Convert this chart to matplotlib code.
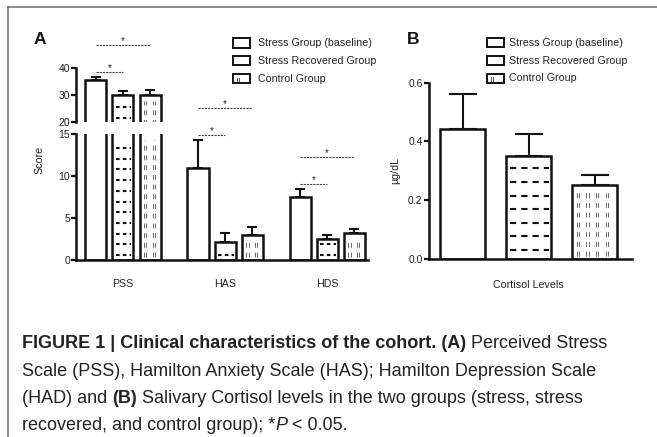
import numpy as np
import matplotlib
matplotlib.use("Agg")
import matplotlib.pyplot as plt
import matplotlib.transforms as mtransforms
from matplotlib.patches import Rectangle
from matplotlib.lines import Line2D

plt.rcParams["font.family"] = ["Liberation Sans", "DejaVu Sans"]
plt.rcParams["lines.scale_dashes"] = False

# --- data ---
groups_a = ["PSS", "HAS", "HDS"]
series_names = ["Stress Group (baseline)", "Stress Recovered Group", "Control Group"]
stress_mean = [35.5, 11.0, 7.5]
stress_sem = [1.1, 3.3, 1.0]
recovered_mean = [30.0, 2.2, 2.5]
recovered_sem = [1.4, 1.05, 0.5]
control_mean = [30.0, 3.0, 3.2]
control_sem = [2.0, 0.9, 0.5]
cortisol_label = "Cortisol Levels"
cortisol_mean = [0.444, 0.350, 0.252]
cortisol_sem = [0.117, 0.074, 0.033]
# significant comparisons in panel A: (group, bar i, bar j)
sig_pairs = [(0, 0, 1), (0, 0, 2), (1, 0, 1), (1, 0, 2), (2, 0, 1), (2, 0, 2)]

W, H = 657, 437
fig = plt.figure(figsize=(W / 100, H / 100), dpi=100)
INK = "#111111"
TXT = "#222222"


def box(left, top, right, bottom):
    return [left / W, 1 - bottom / H, (right - left) / W, (bottom - top) / H]


def px(x, y):
    return x / W, 1 - y / H


def style_axes(ax, ylen=3.3):
    for s in ("top", "right"):
        ax.spines[s].set_visible(False)
    for s in ("left", "bottom"):
        ax.spines[s].set_linewidth(1.8)
        ax.spines[s].set_color(INK)
    ax.tick_params(axis="y", direction="out", length=ylen, width=1.6, pad=1,
                   labelsize=7.5, labelcolor=TXT, color=INK)
    ax.tick_params(axis="x", length=0, labelsize=7.7, labelcolor=TXT)
    ax.patch.set_visible(False)


def fill_pattern(ax, rect, kind, big):
    lo, hi = ax.get_ylim()
    x0 = rect.get_x()
    x1 = x0 + rect.get_width()
    y0 = rect.get_y()
    y1 = min(y0 + rect.get_height(), hi)
    if y1 <= lo:
        return
    t = ax.transData
    inv = t.inverted()
    (px0, py0), (px1, py1) = t.transform([(x0, y0), (x1, y1)])
    if kind == "dash":
        step = 13.6 if big else 10.7
        dash = (4.5, 3.6) if big else (2.6, 2.3)
        start = 9 if big else 5
        for py in np.arange(py0 + start, py1 - (8 if big else 4), step):
            (a, b), (c, _) = inv.transform([(px0 + 3.5, py), (px1 - 2, py)])
            ax.plot([a, c], [b, b], color=INK, lw=1.5, dashes=dash,
                    dash_capstyle="butt", solid_capstyle="butt")
    else:
        period = 9.7 if big else 8.5
        for pxc in np.arange(px0 + 4.5, px1 - 3, period):
            for dx in (0, 2.4):
                (a, b), (_, d) = inv.transform([(pxc + dx, py0 + 3), (pxc + dx, py1 - 6)])
                ax.plot([a, a], [b, d], color="#666666", lw=0.7, dashes=(3.5, 3.5),
                        dash_capstyle="butt")


# --- panel A: broken y axis ---
ax_top = fig.add_axes(box(76, 68, 368, 122))
ax_bot = fig.add_axes(box(76, 134, 368, 260))
xa = np.arange(len(groups_a))
pitch_a, width_a = 0.265, 0.206
means_a = [stress_mean, recovered_mean, control_mean]
sems_a = [stress_sem, recovered_sem, control_sem]
kinds = [None, "dash", "vert"]

for ax, lim in ((ax_top, (20, 40)), (ax_bot, (0, 15))):
    ax.set_xlim(-0.46, 2.40)
    ax.set_ylim(*lim)
    style_axes(ax)
    for k in range(3):
        xs = xa + (k - 1) * pitch_a
        bars = ax.bar(xs, means_a[k], width_a, facecolor="white", edgecolor=INK,
                      linewidth=1.8, zorder=2)
        ax.errorbar(xs, means_a[k], yerr=[np.zeros(3), sems_a[k]], fmt="none",
                    ecolor=INK, elinewidth=1.5, capsize=3.6, capthick=1.5, zorder=1)
        if kinds[k]:
            for r in bars:
                fill_pattern(ax, r, kinds[k], False)

ax_top.set_yticks([20, 30, 40])
ax_top.spines["bottom"].set_visible(False)
ax_top.set_xticks([])
ax_bot.set_yticks([0, 5, 10, 15])
ax_bot.set_xticks(xa, groups_a)
ax_bot.tick_params(axis="x", pad=14)

# significance brackets
for g, i, j in sig_pairs:
    top = stress_mean[g] + stress_sem[g]
    ax = ax_top if top > 20 else ax_bot
    off = 5 if j == 1 else 32
    tr = mtransforms.offset_copy(ax.transData, fig=fig, y=off, units="dots")
    xi = xa[g] + (i - 1) * pitch_a
    xj = xa[g] + (j - 1) * pitch_a
    ax.plot([xi, xj], [top, top], transform=tr, color="#444444", lw=0.8,
            dashes=(1.6, 0.7), clip_on=False)
    trs = mtransforms.offset_copy(ax.transData, fig=fig, y=off - 1, units="dots")
    ax.text((xi + xj) / 2, top, "*", transform=trs, ha="center", va="bottom",
            fontsize=7, color=TXT, clip_on=False)

fig.text(*px(39, 160), "Score", rotation=90, ha="center", va="center",
         fontsize=7.7, color=TXT)

# --- panel B ---
ax_b = fig.add_axes(box(429, 82.7, 632, 259))
style_axes(ax_b, ylen=3.6)
xb = np.arange(len(cortisol_mean))
ax_b.set_xlim(-0.508, 2.568)
ax_b.set_ylim(0, 0.6)
ax_b.set_yticks([0.0, 0.2, 0.4, 0.6], ["0.0", "0.2", "0.4", "0.6"])
bars_b = ax_b.bar(xb, cortisol_mean, 0.68, facecolor="white", edgecolor=INK,
                  linewidth=1.8, zorder=2)
ax_b.errorbar(xb, cortisol_mean, yerr=[np.zeros(3), cortisol_sem], fmt="none",
              ecolor=INK, elinewidth=1.5, capsize=10, capthick=1.5, zorder=1)
for r, kind in zip(bars_b, kinds):
    if kind:
        fill_pattern(ax_b, r, kind, True)
ax_b.set_xticks([1], [cortisol_label])
ax_b.tick_params(axis="x", pad=15)
ax_b.set_ylabel("µg/dL", fontsize=7.7, color=TXT, labelpad=6)

# --- legends ---
def draw_legend(x_icon, x_text, rows):
    for name, y, kind in zip(series_names, rows, kinds):
        fig.add_artist(Rectangle(px(x_icon, y + 4.5), 17 / W, 9 / H,
                                 transform=fig.transFigure, facecolor="white",
                                 edgecolor=INK, lw=1.4))
        if kind == "vert":
            for dx in (3.5, 5.5):
                fig.add_artist(Line2D([(x_icon + dx) / W] * 2,
                                      [1 - (y + 2.5) / H, 1 - (y - 1) / H],
                                      transform=fig.transFigure, color="#555555", lw=0.7))
        fig.text(*px(x_text, y), name, ha="left", va="center", fontsize=7.7, color=TXT)


draw_legend(233, 258, [43, 60.5, 78.5])
draw_legend(487, 509, [42.7, 60.8, 78.3])

fig.text(*px(34, 39), "A", fontsize=12.5, fontweight="bold", color=INK, va="center")
fig.text(*px(407, 39), "B", fontsize=12.5, fontweight="bold", color=INK, va="center")

# --- caption ---
cap_font = ["Liberation Sans", "DejaVu Sans"]
cap_size = 13
renderer = fig.canvas.get_renderer()


def text_width(s, **kw):
    t = fig.text(0, 0, s + "l", fontsize=cap_size, family=cap_font, **kw)
    w = t.get_window_extent(renderer).width
    t.remove()
    t = fig.text(0, 0, "l", fontsize=cap_size, family=cap_font, **kw)
    w -= t.get_window_extent(renderer).width
    t.remove()
    return w


caption = [
    [("FIGURE 1 | Clinical characteristics of the cohort. (A)", "bold", "normal"),
     (" Perceived Stress", "normal", "normal")],
    [("Scale (PSS), Hamilton Anxiety Scale (HAS); Hamilton Depression Scale", "normal", "normal")],
    [("(HAD) and ", "normal", "normal"), ("(B)", "bold", "normal"),
     (" Salivary Cortisol levels in the two groups (stress, stress", "normal", "normal")],
    [("recovered, and control group); *", "normal", "normal"), ("P", "normal", "italic"),
     (" < 0.05.", "normal", "normal")],
]
for n, line in enumerate(caption):
    x = 22.0
    y = 348 + n * 27.5
    for s, wt, st in line:
        fig.text(*px(x, y), s, fontsize=cap_size, family=cap_font, fontweight=wt,
                 fontstyle=st, color=TXT, va="baseline", ha="left")
        x += text_width(s, fontweight=wt, fontstyle=st)

# frame lines
fig.add_artist(Line2D([8 / W, 1], [1 - 7 / H] * 2, transform=fig.transFigure,
                      color="#777777", lw=1.2))
fig.add_artist(Line2D([8 / W] * 2, [0, 1 - 7 / H], transform=fig.transFigure,
                      color="#777777", lw=1.2))

fig.savefig("out.png", dpi=100)
